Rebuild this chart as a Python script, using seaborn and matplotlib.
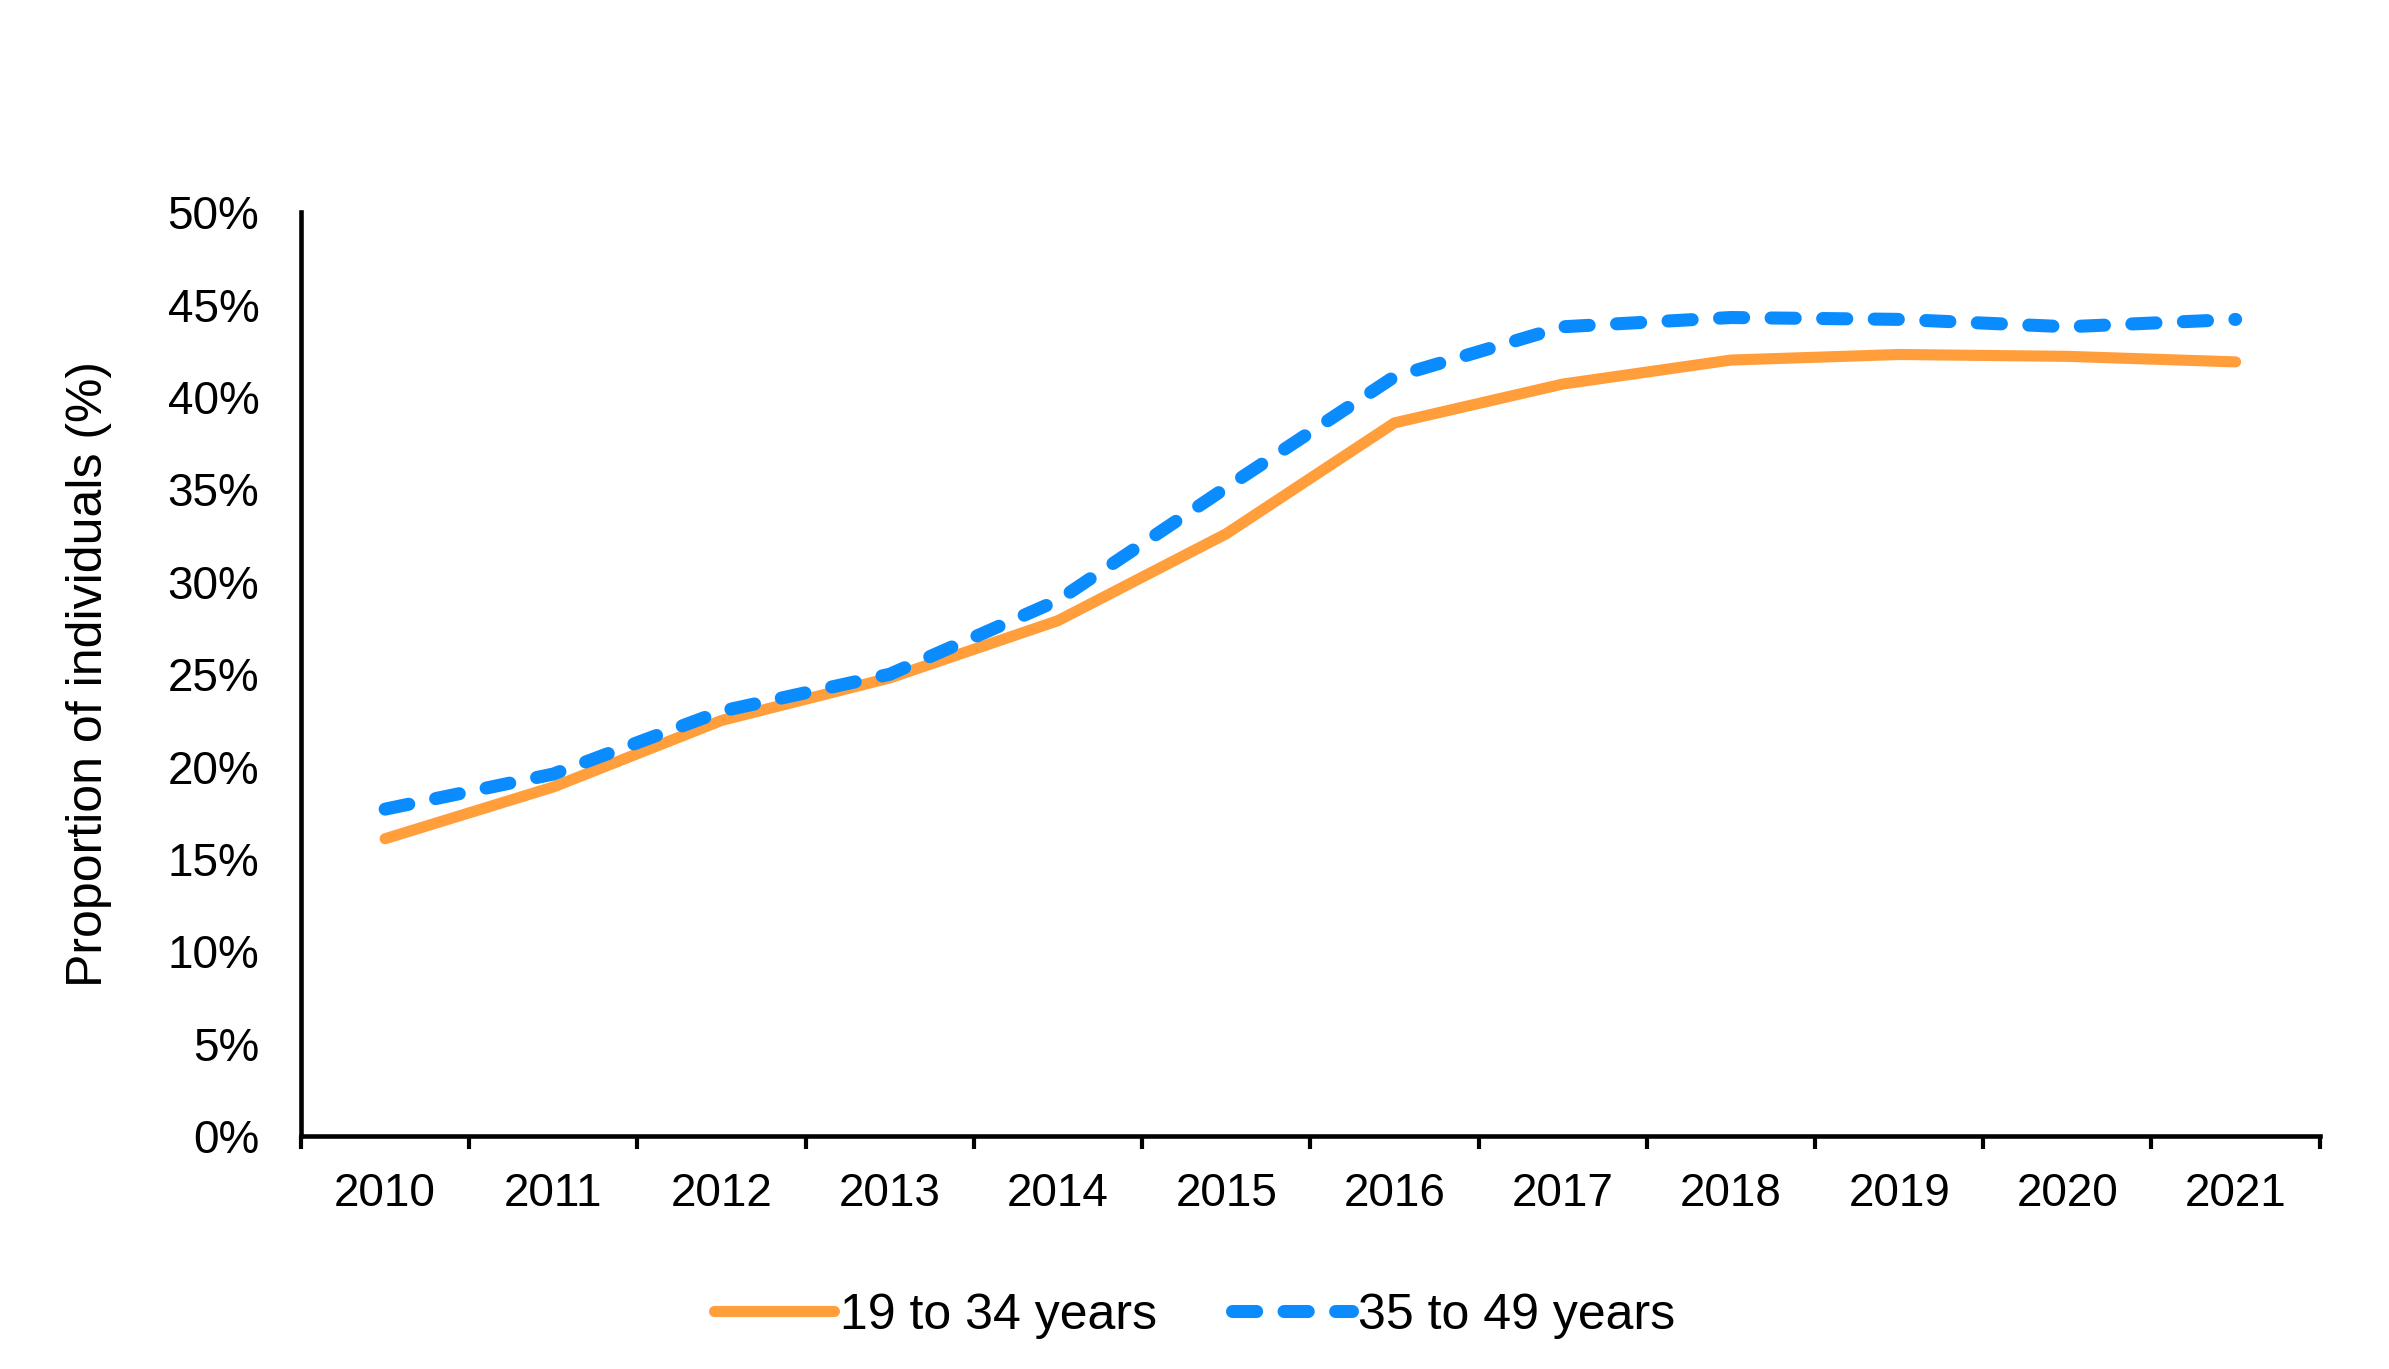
import numpy as np
import pandas as pd
import matplotlib
matplotlib.use("Agg")
import matplotlib.pyplot as plt
from matplotlib.ticker import FixedLocator, FuncFormatter
import seaborn as sns

years = [2010, 2011, 2012, 2013, 2014, 2015, 2016, 2017, 2018, 2019, 2020, 2021]
age_19_34 = [16.1, 18.9, 22.5, 24.8, 27.9, 32.6, 38.6, 40.7, 42.0, 42.3, 42.2, 41.9]
age_35_49 = [17.7, 19.6, 23.0, 25.0, 29.0, 35.1, 41.1, 43.8, 44.3, 44.2, 43.8, 44.2]
series_names = ["19 to 34 years", "35 to 49 years"]
y_ticks = [0, 5, 10, 15, 20, 25, 30, 35, 40, 45, 50]

df = pd.DataFrame({
    "year": years * 2,
    "value": age_19_34 + age_35_49,
    "group": [series_names[0]] * len(years) + [series_names[1]] * len(years),
})

sns.set_theme(style="white")
plt.rcParams["font.family"] = ["Liberation Sans", "DejaVu Sans"]
plt.rcParams["text.color"] = "black"

fig = plt.figure(figsize=(23.89, 13.69), dpi=100)
ax = fig.add_axes([0.126, 0.170, 0.845, 0.675])

palette = {series_names[0]: "#FF9E3B", series_names[1]: "#0A8CFF"}
dashes = {series_names[0]: "", series_names[1]: (1.85, 2.1)}
widths = {series_names[0]: 8.0, series_names[1]: 9.4}

sns.lineplot(data=df, x="year", y="value", hue="group", style="group",
             palette=palette, dashes=dashes, linewidth=8, ax=ax,
             legend=True)

for line, name in zip(ax.get_lines(), series_names):
    line.set_linewidth(widths[name])
    line.set_solid_capstyle("round")
    line.set_dash_capstyle("round")
    line.set_solid_joinstyle("round")

ax.set_xlim(years[0] - 0.5, years[-1] + 0.5)
ax.set_ylim(y_ticks[0], y_ticks[-1])

ax.xaxis.set_major_locator(FixedLocator(years))
ax.set_xticklabels([str(y) for y in years])
ax.xaxis.set_minor_locator(FixedLocator(np.arange(years[0] - 0.5, years[-1] + 1.0, 1.0)))
ax.set_yticks(y_ticks)
ax.yaxis.set_major_formatter(FuncFormatter(lambda v, p: f"{v:.0f}%"))

ax.tick_params(axis="x", which="major", length=0, pad=26, labelsize=33, colors="black")
ax.tick_params(axis="x", which="minor", bottom=True, length=9, width=3, direction="out", color="black")
ax.tick_params(axis="y", which="major", length=0, pad=30, labelsize=33, colors="black")

for side in ["top", "right"]:
    ax.spines[side].set_visible(False)
for side in ["left", "bottom"]:
    ax.spines[side].set_color("black")
    ax.spines[side].set_linewidth(3.3)

ax.set_xlabel("")
ax.set_ylabel("Proportion of individuals (%)", fontsize=36, color="black", labelpad=40)

handles, labels = ax.get_legend_handles_labels()
leg = ax.legend(handles, labels, loc="center", bbox_to_anchor=(0.5, 0.039),
                bbox_transform=fig.transFigure, ncol=2, frameon=False,
                fontsize=36, handlelength=2.4, handletextpad=0.12, columnspacing=1.5,
                labelcolor="black")
for line, text in zip(leg.get_lines(), leg.get_texts()):
    line.set_linewidth(widths[text.get_text()])
    line.set_solid_capstyle("round")
    line.set_dash_capstyle("round")

fig.savefig("out.png", dpi=100, facecolor="white")
